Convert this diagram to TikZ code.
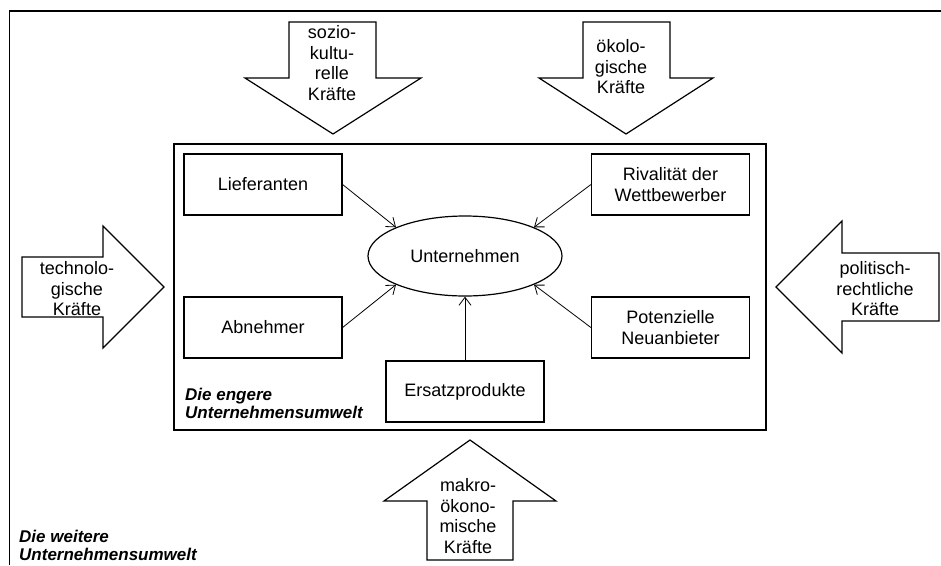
\documentclass[tikz,border=0pt]{standalone}
\usepackage{fontspec}
\setmainfont{Liberation Sans}
\usetikzlibrary{arrows.meta,shapes.geometric}

\begin{document}
\begin{tikzpicture}[x=1pt,y=-1pt,
	every node/.style={font=\fontsize{18}{20.5}\selectfont},
	feld/.style={draw,line width=1.2pt,minimum width=158pt,minimum height=61pt,inner sep=0pt,align=center},
	kraft/.style={draw,line width=1.2pt,line join=miter},
	kraftlabel/.style={align=center,inner sep=0pt},
	pfeil/.style={-{Straight Barb[length=8pt,width=12pt]},line width=0.8pt},
	umwelt/.style={align=left,inner sep=0pt,anchor=north west,font=\fontsize{17}{18}\selectfont\bfseries\itshape}]
	\useasboundingbox (0,0) rectangle (941,565);
	% Outer and inner frame
	\draw[line width=1.2pt] (9.5,565) -- (9.5,11) -- (941,11);
	\draw[line width=1.2pt] (174,144) rectangle (766,430);
	% Company and the five forces
	\node[draw,ellipse,line width=1.2pt,minimum width=194pt,minimum height=80pt,inner sep=0pt] (unt) at (465,256) {Unternehmen};
	\node[feld] (lief) at (263,184.5) {Lieferanten};
	\node[feld] (rival) at (670.5,184.5) {Rivalität der\\Wettbewerber};
	\node[feld] (abn) at (263,327.5) {Abnehmer};
	\node[feld] (pot) at (670.5,327.5) {Potenzielle\\Neuanbieter};
	\node[feld] (ersatz) at (465,391.5) {Ersatzprodukte};
	\draw[pfeil] (lief.east) -- (unt.north west);
	\draw[pfeil] (rival.west) -- (unt.north east);
	\draw[pfeil] (abn.east) -- (unt.south west);
	\draw[pfeil] (pot.west) -- (unt.south east);
	\draw[pfeil] (ersatz.north) -- (unt.south);
	% Block arrows
	\draw[kraft] (289,22) -- (376,22) -- (376,78) -- (421,78) -- (333,134) -- (245,78) -- (289,78) -- cycle;
	\node[kraftlabel] (sozio) at (332,63) {sozio-\\kultu-\\relle\\Kräfte};
	\draw[kraft] (583,22) -- (670,22) -- (670,78) -- (713,78) -- (626,134) -- (539,78) -- (583,78) -- cycle;
	\node[kraftlabel] (oeko) at (621,67) {ökolo-\\gische\\Kräfte};
	\draw[kraft] (22,257) -- (103,257) -- (103,226) -- (164,287) -- (103,348) -- (103,317) -- (22,317) -- cycle;
	\node[kraftlabel] (techno) at (77,289) {technolo-\\gische\\Kräfte};
	\draw[kraft] (939,253) -- (842,253) -- (842,221) -- (776,287) -- (842,353) -- (842,321) -- (939,321) -- cycle;
	\node[kraftlabel] (polit) at (875,289) {politisch-\\rechtliche\\Kräfte};
	\draw[kraft] (427,560) -- (427,501) -- (384,501) -- (470,440) -- (556,501) -- (513,501) -- (513,560) -- cycle;
	\node[kraftlabel] (makro) at (468,516) {makro-\\ökono-\\mische\\Kräfte};
	% Labels
	\node[umwelt] (engere) at (185,387.5) {Die engere\\Unternehmensumwelt};
	\node[umwelt] (weitere) at (19,529.5) {Die weitere\\Unternehmensumwelt};
\end{tikzpicture}
\end{document}
